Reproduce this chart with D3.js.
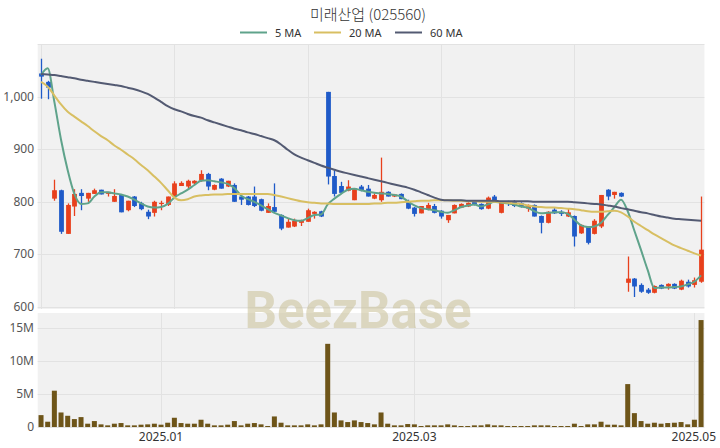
<!DOCTYPE html>
<html>
<head>
<meta charset="utf-8">
<script src="https://cdn.jsdelivr.net/npm/d3@7/dist/d3.min.js"></script>
<style>
  html, body { margin: 0; padding: 0; background: #ffffff; }
  svg { display: block; }
  text { font-family: "Noto Sans", "Noto Sans CJK KR", sans-serif; }
</style>
</head>
<body>
<svg id="chart" width="720" height="448"></svg>
<script>
// ---------- data ----------
const title = "미래산업 (025560)";
const dates = [
  "2024-12-04","2024-12-05","2024-12-06","2024-12-09","2024-12-10","2024-12-11","2024-12-12","2024-12-13","2024-12-16","2024-12-17",
  "2024-12-18","2024-12-19","2024-12-20","2024-12-23","2024-12-24","2024-12-26","2024-12-27","2024-12-30",
  "2025-01-02","2025-01-03","2025-01-06","2025-01-07","2025-01-08","2025-01-09","2025-01-10","2025-01-13","2025-01-14","2025-01-15",
  "2025-01-16","2025-01-17","2025-01-20","2025-01-21","2025-01-22","2025-01-23","2025-01-24","2025-01-31",
  "2025-02-03","2025-02-04","2025-02-05","2025-02-06","2025-02-07","2025-02-10","2025-02-11","2025-02-12","2025-02-13","2025-02-14",
  "2025-02-17","2025-02-18","2025-02-19","2025-02-20","2025-02-21","2025-02-24","2025-02-25","2025-02-26","2025-02-27","2025-02-28",
  "2025-03-04","2025-03-05","2025-03-06","2025-03-07","2025-03-10","2025-03-11","2025-03-12","2025-03-13","2025-03-14","2025-03-17",
  "2025-03-18","2025-03-19","2025-03-20","2025-03-21","2025-03-24","2025-03-25","2025-03-26","2025-03-27","2025-03-28","2025-03-31",
  "2025-04-01","2025-04-02","2025-04-03","2025-04-04","2025-04-07","2025-04-08","2025-04-09","2025-04-10","2025-04-11","2025-04-14",
  "2025-04-15","2025-04-16","2025-04-17","2025-04-18","2025-04-21","2025-04-22","2025-04-23","2025-04-24","2025-04-25","2025-04-28",
  "2025-04-29","2025-04-30","2025-05-02","2025-05-07"
];
const openPrice = [1044,1028,806,822,739,791,817,806,815,823, 815,800,813,784,810,797,781,779,796,794,
  810,830,829,835,840,853,823,844,829,832, 810,810,810,805,779,790,775,751,753,760,
  762,777,782,1009,849,830,821,803,829,825, 806,803,819,810,815,800,789,778,785,792,
  783,765,778,789,791,800,796,787,810,779, 800,800,797,787,794,773,760,785,781,772,
  773,740,753,739,753,823,813,817,646,654, 642,633,627,642,639,644,633,648,642,648];
const highPrice = [1072,1030,842,823,797,824,824,817,825,823, 819,824,813,802,811,800,785,802,802,810,
  839,839,842,841,860,855,833,845,840,835, 811,811,829,806,797,835,776,768,768,766,
  787,782,783,1009,860,838,841,826,832,832, 816,884,820,815,816,804,790,792,798,796,
  784,775,795,797,799,802,797,810,813,801, 802,803,799,795,795,774,782,788,784,787,
  774,757,754,767,813,824,819,818,696,655, 645,636,641,643,645,645,652,652,656,810];
const lowPrice = [996,995,802,739,739,773,784,800,815,814, 810,800,780,782,790,784,767,772,784,792,
  806,830,825,833,838,822,822,825,828,800, 794,793,790,782,779,780,746,751,752,754,
  762,768,771,833,810,815,820,803,820,810, 805,800,810,809,805,786,772,778,784,778,
  768,760,778,788,790,793,785,786,801,778, 792,790,789,781,772,740,759,777,773,771,
  715,739,719,738,750,803,806,809,629,619, 627,625,626,634,633,634,632,637,637,646];
const closePrice = [1038,1017,822,743,794,815,811,817,822,814, 819,811,780,802,792,786,772,800,798,810,
  835,836,840,840,853,829,832,825,840,800, 804,794,792,783,792,781,749,762,764,765,
  784,781,772,848,815,817,829,825,822,810, 813,819,810,814,805,787,777,792,794,779,
  772,775,794,796,798,794,786,808,802,800, 796,792,791,794,772,760,781,778,777,780,
  734,756,722,764,813,810,819,810,654,639, 629,627,640,635,644,635,650,639,651,709];
// volume in millions of shares
const volumeM = [1.8,0.8,5.5,2.2,1.7,1.2,1.5,0.5,0.9,0.4, 0.25,0.5,0.6,0.25,0.25,0.35,0.4,0.5,0.35,0.65,
  1.4,0.6,0.5,0.5,1.1,0.5,0.25,0.25,0.35,0.9, 0.25,0.5,0.6,0.4,0.15,1.6,0.65,0.25,0.25,0.25,
  0.4,0.25,0.4,12.6,2.2,1.0,0.75,1.0,0.75,0.6, 0.4,2.2,0.5,0.25,0.25,0.45,0.4,0.15,0.25,0.25,
  0.25,0.4,0.25,0.15,0.15,0.25,0.25,0.4,0.25,0.25, 0.15,0.15,0.15,0.15,0.25,0.25,0.25,0.15,0.15,0.15,
  0.5,0.15,0.4,0.4,0.8,0.35,0.35,0.25,6.5,2.1, 0.9,0.5,0.65,0.5,0.6,0.65,0.75,0.4,1.1,16.2];
const ma5 = [1041,1054,990,918,860,815,796,797,810,818, 818,816,814,810,804,797,791,789,790,796,
  808,816,823,832,840,841,839,837,834,826, 812,805,800,793,786,779,774,769,765,764,
  769,775,776,795,806,815,823,825,822,819, 817,816,815,813,810,801,793,788,786,784,
  781,779,784,790,793,795,791,795,800,798, 797,795,791,789,782,778,779,780,780,777,
  766,755,752,753,760,775,790,804,782,745, 708,670,636,637,637,638,639,643,648,660];
const ma20 = [1028,1019,1002,985,971,962,953,944,934,925, 917,907,899,890,881,870,860,848,836,822,
  808,803,805,810,812,813,814,814,815,815, 815,815,815,815,815,813,810,807,804,801,
  799,798,797,797,796,796,796,796,796,796, 797,797,798,798,799,800,801,802,802,803,
  803,803,802,802,801,801,800,800,800,799, 798,797,796,793,791,790,789,789,788,787,
  786,784,782,781,781,782,783,780,772,762, 754,746,738,731,724,717,712,707,702,698];
const ma60 = [1043,1042,1041,1039,1037,1035,1032,1030,1028,1026, 1024,1022,1020,1017,1014,1010,1005,998,990,982,
  976,972,967,963,960,955,951,947,943,939, 936,932,929,925,921,917,909,899,890,884,
  879,874,869,865,861,857,854,851,848,845, 842,839,836,833,830,827,823,818,813,808,
  804,803,803,803,802,802,802,802,802,801, 801,801,801,801,800,800,800,800,800,800,
  799,798,797,796,795,793,791,788,786,783, 780,778,775,772,770,768,767,766,765,764];
const priceTicks = [600, 700, 800, 900, 1000];
const volumeTicks = [0, 5, 10, 15];
const monthTickDates = ["2025-01-02", "2025-03-04", "2025-05-02"];
const monthTickLabels = ["2025.01", "2025.03", "2025.05"];
const priceGridDates = ["2024-12-04", "2025-01-06", "2025-02-07", "2025-03-10", "2025-04-07"];
const legendNames = ["5 MA", "20 MA", "60 MA"];

// ---------- styles ----------
const C = {
  up: "#e8401c", down: "#1f5ac8", vol: "#6e5519",
  ma5: "#5fa38b", ma20: "#d8bf62", ma60: "#535a72",
  bg: "#f1f1f1", grid: "#e2e2e2", text: "#555555", title: "#333333",
  watermark: "rgba(200,192,150,0.55)"
};

const svg = d3.select("#chart");
const left = 37.7, right = 704.4;
const priceTop = 44, priceBottom = 309;
const volTop = 313, volBottom = 427;

const x = d3.scaleBand().domain(dates).range([left, right]).padding(0);
const bw = x.bandwidth();
const cx = d => x(d) + bw / 2;
const yP = d3.scaleLinear().domain([600, 1100]).range([307, 44]);
const yV = d3.scaleLinear().domain([0, 17.27]).range([volBottom, volTop]);

const rows = dates.map((d, i) => ({
  date: d, o: openPrice[i], h: highPrice[i], l: lowPrice[i], c: closePrice[i],
  v: volumeM[i], m5: ma5[i], m20: ma20[i], m60: ma60[i]
}));

// backgrounds
svg.append("rect").attr("x", left).attr("y", priceTop).attr("width", right - left)
  .attr("height", priceBottom - priceTop).attr("fill", C.bg);
svg.append("rect").attr("x", left).attr("y", volTop).attr("width", right - left)
  .attr("height", volBottom - volTop).attr("fill", C.bg);

// price gridlines
const gP = svg.append("g");
gP.selectAll("line.h").data(priceTicks.concat([1100])).enter().append("line")
  .attr("x1", left).attr("x2", right)
  .attr("y1", d => Math.round(yP(d)) + 0.5).attr("y2", d => Math.round(yP(d)) + 0.5)
  .attr("stroke", C.grid).attr("stroke-width", 1);
gP.selectAll("line.v").data(priceGridDates).enter().append("line")
  .attr("x1", d => Math.round(cx(d)) + 0.5).attr("x2", d => Math.round(cx(d)) + 0.5)
  .attr("y1", priceTop).attr("y2", priceBottom)
  .attr("stroke", C.grid).attr("stroke-width", 1);

// volume gridlines
const gV = svg.append("g");
gV.selectAll("line.h").data(volumeTicks).enter().append("line")
  .attr("x1", left).attr("x2", right)
  .attr("y1", d => Math.round(yV(d)) + 0.5).attr("y2", d => Math.round(yV(d)) + 0.5)
  .attr("stroke", C.grid).attr("stroke-width", 1);
gV.selectAll("line.v").data(monthTickDates).enter().append("line")
  .attr("x1", d => Math.round(cx(d)) + 0.5).attr("x2", d => Math.round(cx(d)) + 0.5)
  .attr("y1", volTop).attr("y2", volBottom)
  .attr("stroke", C.grid).attr("stroke-width", 1);

// watermark
svg.append("text").attr("x", 358).attr("y", 328).attr("text-anchor", "middle")
  .style("font-family", "Roboto, sans-serif").style("font-weight", "700")
  .style("font-size", "51px").attr("fill", C.watermark).text("BeezBase");

// axis labels
svg.append("g").selectAll("text").data(priceTicks).enter().append("text")
  .attr("x", 34).attr("y", d => yP(d) + 4).attr("text-anchor", "end")
  .style("font-size", "12px").attr("fill", C.text)
  .text(d => d3.format(",")(d));
svg.append("g").selectAll("text").data(volumeTicks).enter().append("text")
  .attr("x", 34).attr("y", d => yV(d) + 4).attr("text-anchor", "end")
  .style("font-size", "12px").attr("fill", C.text)
  .text(d => d === 0 ? "0" : d + "M");
svg.append("g").selectAll("text").data(monthTickDates).enter().append("text")
  .attr("x", (d, i) => i === monthTickDates.length - 1 ? 716 : cx(d))
  .attr("y", 441)
  .attr("text-anchor", (d, i) => i === monthTickDates.length - 1 ? "end" : "middle")
  .style("font-size", "12px").attr("fill", C.title)
  .text((d, i) => monthTickLabels[i]);

// volume bars
svg.append("g").selectAll("rect").data(rows).enter().append("rect")
  .attr("x", d => cx(d.date) - 2.5).attr("width", 5)
  .attr("y", d => yV(d.v)).attr("height", d => yV(0) - yV(d.v))
  .attr("fill", C.vol);

// candles
const gc = svg.append("g");
const col = d => d.c >= d.o ? C.up : C.down;
gc.selectAll("line").data(rows).enter().append("line")
  .attr("x1", d => Math.round(cx(d.date)) + 0.5).attr("x2", d => Math.round(cx(d.date)) + 0.5)
  .attr("y1", d => yP(d.h)).attr("y2", d => yP(d.l))
  .attr("stroke", col).attr("stroke-width", 1.3);
gc.selectAll("rect").data(rows).enter().append("rect")
  .attr("x", d => Math.round(cx(d.date)) + 0.5 - 2.4).attr("width", 4.8)
  .attr("y", d => yP(Math.max(d.o, d.c)))
  .attr("height", d => Math.max(1.2, Math.abs(yP(d.o) - yP(d.c))))
  .attr("fill", col);

// moving averages
const maDefs = [["m5", C.ma5], ["m20", C.ma20], ["m60", C.ma60]];
maDefs.forEach(([k, color]) => {
  const line = d3.line().x(d => cx(d.date)).y(d => yP(d[k])).curve(d3.curveMonotoneX);
  svg.append("path").datum(rows).attr("d", line).attr("fill", "none")
    .attr("stroke", color).attr("stroke-width", 2).attr("stroke-linejoin", "round");
});

// title
svg.append("text").attr("x", 368).attr("y", 20).attr("text-anchor", "middle")
  .style("font-family", "'Noto Sans CJK KR', 'Noto Sans', sans-serif")
  .style("font-size", "15px").style("font-weight", "300").attr("fill", C.title).text(title);

// legend
const legendX = [240, 314, 395];
const lg = svg.append("g");
legendNames.forEach((name, i) => {
  lg.append("line").attr("x1", legendX[i]).attr("x2", legendX[i] + 27)
    .attr("y1", 32.5).attr("y2", 32.5).attr("stroke", maDefs[i][1]).attr("stroke-width", 2);
  lg.append("text").attr("x", legendX[i] + 35).attr("y", 36.5)
    .style("font-size", "11px").attr("fill", C.title).text(name);
});
</script>
</body>
</html>
